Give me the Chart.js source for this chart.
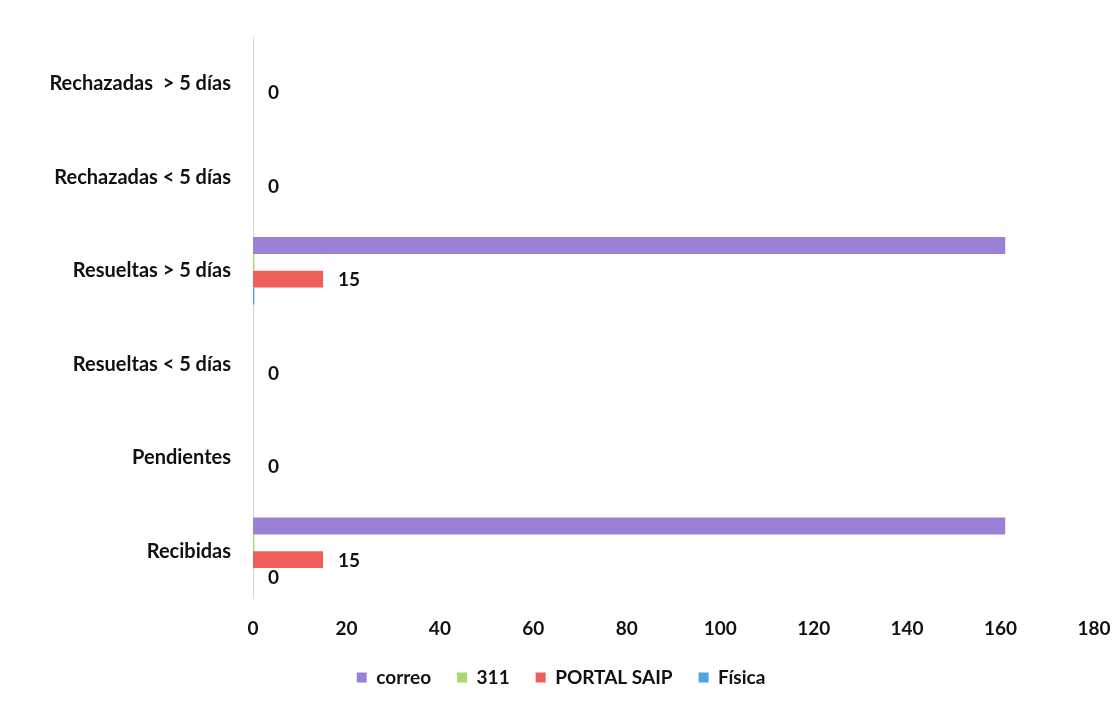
<!DOCTYPE html>
<html lang="es">
<head>
    <meta charset="UTF-8">
    <title>Solicitudes por canal</title>
    <script src="https://cdn.jsdelivr.net/npm/chart.js"></script>
    <style>
        html, body { margin: 0; padding: 0; background: #fff; }
        #wrap { width: 1112px; height: 707px; }
    </style>
</head>
<body>
    <div id="wrap"><canvas id="solicitudesChart" width="1112" height="707"></canvas></div>

    <script>
        // categories, top to bottom as in the chart
        const categories = ["Rechazadas  > 5 días", "Rechazadas < 5 días", "Resueltas > 5 días", "Resueltas < 5 días", "Pendientes", "Recibidas"];

        const correo = [0, 0, 161, 0, 0, 161];
        const tres11 = [0, 0, 0.3, 0, 0, 0.3];
        const portalSaip = [0, 0, 15, 0, 0, 15];
        const fisica = [0, 0, 0.3, 0, 0, 0];

        // which values get a number printed next to them
        const portalLabels = [true, true, true, true, true, true];
        const fisicaLabels = [false, false, false, false, false, true];

        const xTicks = [0, 20, 40, 60, 80, 100, 120, 140, 160, 180];

        Chart.defaults.font.family = "Lato";
        Chart.defaults.font.weight = "bold";
        Chart.defaults.font.size = 19;
        Chart.defaults.color = "#111";

        // draws the numbers beside the bars
        const valueLabels = {
            id: "valueLabels",
            afterDatasetsDraw(chart) {
                const ctx = chart.ctx;
                ctx.save();
                ctx.font = "bold 19px Lato";
                ctx.fillStyle = "#111";
                ctx.textAlign = "left";
                ctx.textBaseline = "middle";
                chart.data.datasets.forEach((ds, i) => {
                    if (!ds.showValues) return;
                    chart.getDatasetMeta(i).data.forEach((bar, j) => {
                        if (!ds.showValues[j]) return;
                        ctx.fillText(String(ds.data[j]), bar.x + 15, bar.y + 1);
                    });
                });
                ctx.restore();
            }
        };

        const ctx = document.getElementById("solicitudesChart").getContext("2d");
        new Chart(ctx, {
            type: "bar",
            data: {
                labels: categories,
                datasets: [
                    { label: "correo", data: correo, backgroundColor: "#9c80d8" },
                    { label: "311", data: tres11, backgroundColor: "#a9d86e" },
                    { label: "PORTAL SAIP", data: portalSaip, backgroundColor: "#ef5f59", showValues: portalLabels },
                    { label: "Física", data: fisica, backgroundColor: "#4ea4dc", showValues: fisicaLabels }
                ]
            },
            options: {
                indexAxis: "y",
                responsive: false,
                animation: false,
                layout: { padding: { top: 37, right: 18, bottom: 10, left: 28 } },
                datasets: { bar: { categoryPercentage: 0.72, barPercentage: 1.0 } },
                scales: {
                    x: {
                        min: 0,
                        max: 180,
                        afterBuildTicks: (scale) => { scale.ticks = xTicks.map(v => ({ value: v })); },
                        grid: { display: false, drawTicks: false },
                        border: { display: false },
                        ticks: { padding: 19 },
                        afterFit: (scale) => {
                            scale.height = 44;
                            scale.paddingLeft = 0;
                            scale.paddingRight = 0;
                        }
                    },
                    y: {
                        grid: { display: false, drawTicks: false },
                        border: { display: true, color: "#d6d6d6", width: 1 },
                        ticks: { padding: 22, font: { size: 20, weight: "bold" } },
                        afterFit: (scale) => { scale.width = 225; }
                    }
                },
                plugins: {
                    legend: {
                        position: "bottom",
                        labels: { boxWidth: 10, boxHeight: 10, padding: 26, font: { size: 19, weight: "bold" } }
                    },
                    tooltip: { enabled: false }
                }
            },
            plugins: [valueLabels]
        });
    </script>
</body>
</html>
